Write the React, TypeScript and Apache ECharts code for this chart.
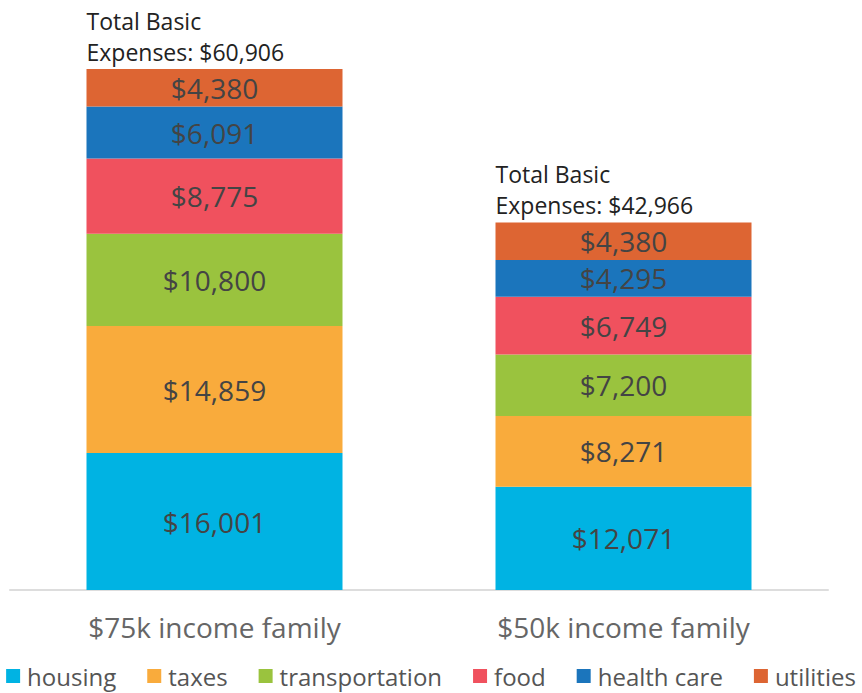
import React, { useEffect, useRef } from "react";
import * as echarts from "echarts";

const categories = ["$75k income family", "$50k income family"];
const seriesNames = ["housing", "taxes", "transportation", "food", "health care", "utilities"];
const housing = [16001, 12071];
const taxes = [14859, 8271];
const transportation = [10800, 7200];
const food = [8775, 6749];
const healthCare = [6091, 4295];
const utilities = [4380, 4380];
const totals = [60906, 42966];
const colors = ["#00b3e3", "#f9ab3c", "#9ac33e", "#f0515e", "#1b75bc", "#dd6533"];

const fmt = (v: number) => "$" + v.toLocaleString("en-US");

export default function App() {
  const ref = useRef<HTMLDivElement>(null);
  useEffect(() => {
    if (!ref.current) return;
    const chart = echarts.init(ref.current, null, { renderer: "svg" });
    const values = [housing, taxes, transportation, food, healthCare, utilities];
    const font = "Open Sans";
    const stacked = seriesNames.map((name, i) => ({
      name,
      type: "bar",
      stack: "total",
      barWidth: 256,
      barGap: "-100%",
      data: values[i],
      itemStyle: { color: colors[i] },
      label: {
        show: true,
        position: "inside",
        formatter: (p: any) => fmt(p.value),
        color: "#444",
        fontSize: 28,
        fontFamily: font,
      },
    }));
    chart.setOption({
      animation: false,
      color: colors,
      grid: { left: 10, right: 34, top: 69, bottom: 103 },
      legend: {
        data: seriesNames,
        left: "center",
        top: 659,
        icon: "rect",
        itemWidth: 14,
        itemHeight: 14,
        itemGap: 31,
        textStyle: { fontSize: 24, color: "#555", fontFamily: font, padding: [0, 0, 0, 2] },
      },
      xAxis: {
        type: "category",
        data: categories,
        axisLine: { lineStyle: { color: "#ddd", width: 2 } },
        axisTick: { show: false },
        axisLabel: { fontSize: 28, color: "#666", margin: 23, fontFamily: font },
      },
      yAxis: { type: "value", min: 0, max: 60906, show: false, splitLine: { show: false } },
      series: [
        ...stacked,
        {
          name: "total",
          type: "bar",
          barWidth: 256,
          barGap: "-100%",
          data: totals,
          itemStyle: { color: "rgba(0,0,0,0)" },
          silent: true,
          z: 0,
          label: {
            show: true,
            position: [0, -2],
            align: "left",
            verticalAlign: "bottom",
            formatter: (p: any) => "Total Basic\nExpenses: " + fmt(p.value),
            color: "#222",
            fontSize: 23,
            lineHeight: 31,
            fontFamily: font,
          },
        },
      ],
    });
    return () => chart.dispose();
  }, []);
  return <div ref={ref} style={{ width: 862, height: 693, position: "absolute", left: 0, top: 0 }} />;
}
